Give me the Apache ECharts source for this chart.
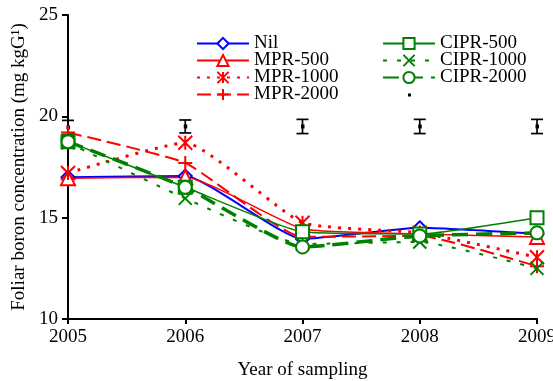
<!DOCTYPE html>
<html><head><meta charset="utf-8">
<script src="https://cdn.jsdelivr.net/npm/echarts@6/dist/echarts.min.js"></script>
<style>html,body{margin:0;padding:0;background:#fff}#c{width:553px;height:381px}</style>
</head><body><div id="c"></div>
<script>
const years = [2005, 2006, 2007, 2008, 2009];
const nil      = [17.0, 17.05, 13.95, 14.5, 14.2];
const mpr500   = [16.95, 17.0, 14.45, 14.2, 14.05];
const mpr1000  = [17.2, 18.7, 14.75, 14.25, 13.05];
const mpr2000  = [19.2, 17.7, 14.05, 14.1, 12.6];
const cipr500  = [18.75, 16.5, 14.3, 14.2, 15.0];
const cipr1000 = [18.7, 15.95, 13.7, 13.8, 12.5];
const cipr2000 = [18.75, 16.5, 13.55, 14.1, 14.25];
const errMean  = [19.45, 19.5, 19.5, 19.5, 19.5];
const errHalf  = [0.35, 0.32, 0.35, 0.35, 0.35];
const yTicks = [10, 15, 20, 25];

const RED = '#ff0000', BLUE = '#0000ff', GREEN = '#008000';
const asterisk = 'path://M0,0L10,10M10,0L0,10M5,0L5,10';
const plus = 'path://M5,0L5,10M0,5L10,5';
const xMark = 'path://M0,0L10,10M10,0L0,10';
const dotIcon = 'path://M0,0M52,14M25,6L28,6L28,9L25,9Z';
const font = 'Liberation Serif';
const FS = 19;

function pts(arr){ return years.map((y,i)=>[y, arr[i]]); }

function lineSeries(name, data, color, lw, type, symbol, size){
  return {
    name, type:'line', data: pts(data), smooth: 0.15,
    lineStyle:{color, width:lw, type},
    symbol, symbolSize:size, showSymbol:true,
    itemStyle:{color:color, borderColor:color, borderWidth:2},
    z: 3
  };
}

const legText = {fontFamily:font, fontSize:FS, color:'#000', lineHeight:17};
const chart = echarts.init(document.getElementById('c'), null, {renderer:'canvas'});
chart.setOption({
  animation:false,
  backgroundColor:'#fff',
  textStyle:{fontFamily:font, color:'#000'},
  grid:{left:68, right:16, top:15, bottom:62, containLabel:false, outerBoundsMode:'none'},
  legend:[
    {data:['Nil','MPR-500','MPR-1000','MPR-2000'], orient:'vertical', left:196, top:34,
     itemWidth:52, itemHeight:14, itemGap:-2, textStyle:legText, padding:0},
    {data:['CIPR-500','CIPR-1000','CIPR-2000',{name:' ', icon:dotIcon}], orient:'vertical', left:382, top:34,
     itemWidth:52, itemHeight:14, itemGap:-2, textStyle:legText, padding:0}
  ],
  xAxis:{type:'value', min:2005, max:2009, interval:1,
    name:'Year of sampling', nameLocation:'middle', nameGap:42,
    nameTextStyle:{fontFamily:font, fontSize:FS, color:'#000'},
    axisLine:{lineStyle:{color:'#000', width:2}},
    axisTick:{show:true, length:5, lineStyle:{color:'#000', width:2}},
    axisLabel:{fontFamily:font, fontSize:FS, color:'#000', margin:9, formatter:v=>String(v)},
    splitLine:{show:false}},
  yAxis:{type:'value', min:yTicks[0], max:yTicks[yTicks.length-1], interval:5,
    name:'Foliar boron concentration (mg kgG\u00B9)', nameLocation:'middle', nameGap:38,
    nameTextStyle:{fontFamily:font, fontSize:FS, color:'#000'},
    axisLine:{show:true, lineStyle:{color:'#000', width:2}},
    axisTick:{show:true, length:6, lineStyle:{color:'#000', width:2}},
    axisLabel:{fontFamily:font, fontSize:FS, color:'#000', margin:10},
    splitLine:{show:false}},
  series:[
    {name:' ', type:'custom', data: years.map((y,i)=>[y, errMean[i], errHalf[i]]),
     itemStyle:{color:'#000'}, z:2,
     renderItem:function(params, api){
       const x = api.value(0), m = api.value(1), h = api.value(2);
       const top = api.coord([x, m+h]), bot = api.coord([x, m-h]), mid = api.coord([x, m]);
       const st = {stroke:'#000', lineWidth:1.7, fill:null};
       return {type:'group', children:[
         {type:'line', shape:{x1:top[0], y1:top[1], x2:bot[0], y2:bot[1]}, style:st},
         {type:'line', shape:{x1:top[0]-6, y1:top[1], x2:top[0]+6, y2:top[1]}, style:st},
         {type:'line', shape:{x1:bot[0]-6, y1:bot[1], x2:bot[0]+6, y2:bot[1]}, style:st},
         {type:'rect', shape:{x:mid[0]-1.5, y:mid[1]-2, width:3.5, height:4}, style:{fill:'#000'}}
       ]};
     }},
    lineSeries('Nil', nil, BLUE, 2, 'solid', 'emptyDiamond', 13),
    lineSeries('MPR-500', mpr500, RED, 1.5, 'solid', 'emptyTriangle', 14),
    lineSeries('MPR-1000', mpr1000, RED, 3, [3,7], asterisk, 14),
    lineSeries('MPR-2000', mpr2000, RED, 2, [14,6], plus, 14),
    lineSeries('CIPR-500', cipr500, GREEN, 1.5, 'solid', 'emptyRect', 13),
    lineSeries('CIPR-1000', cipr1000, GREEN, 2, [4,10], xMark, 13),
    lineSeries('CIPR-2000', cipr2000, GREEN, 3.5, [16,8], 'emptyCircle', 13)
  ]
});
</script></body></html>
